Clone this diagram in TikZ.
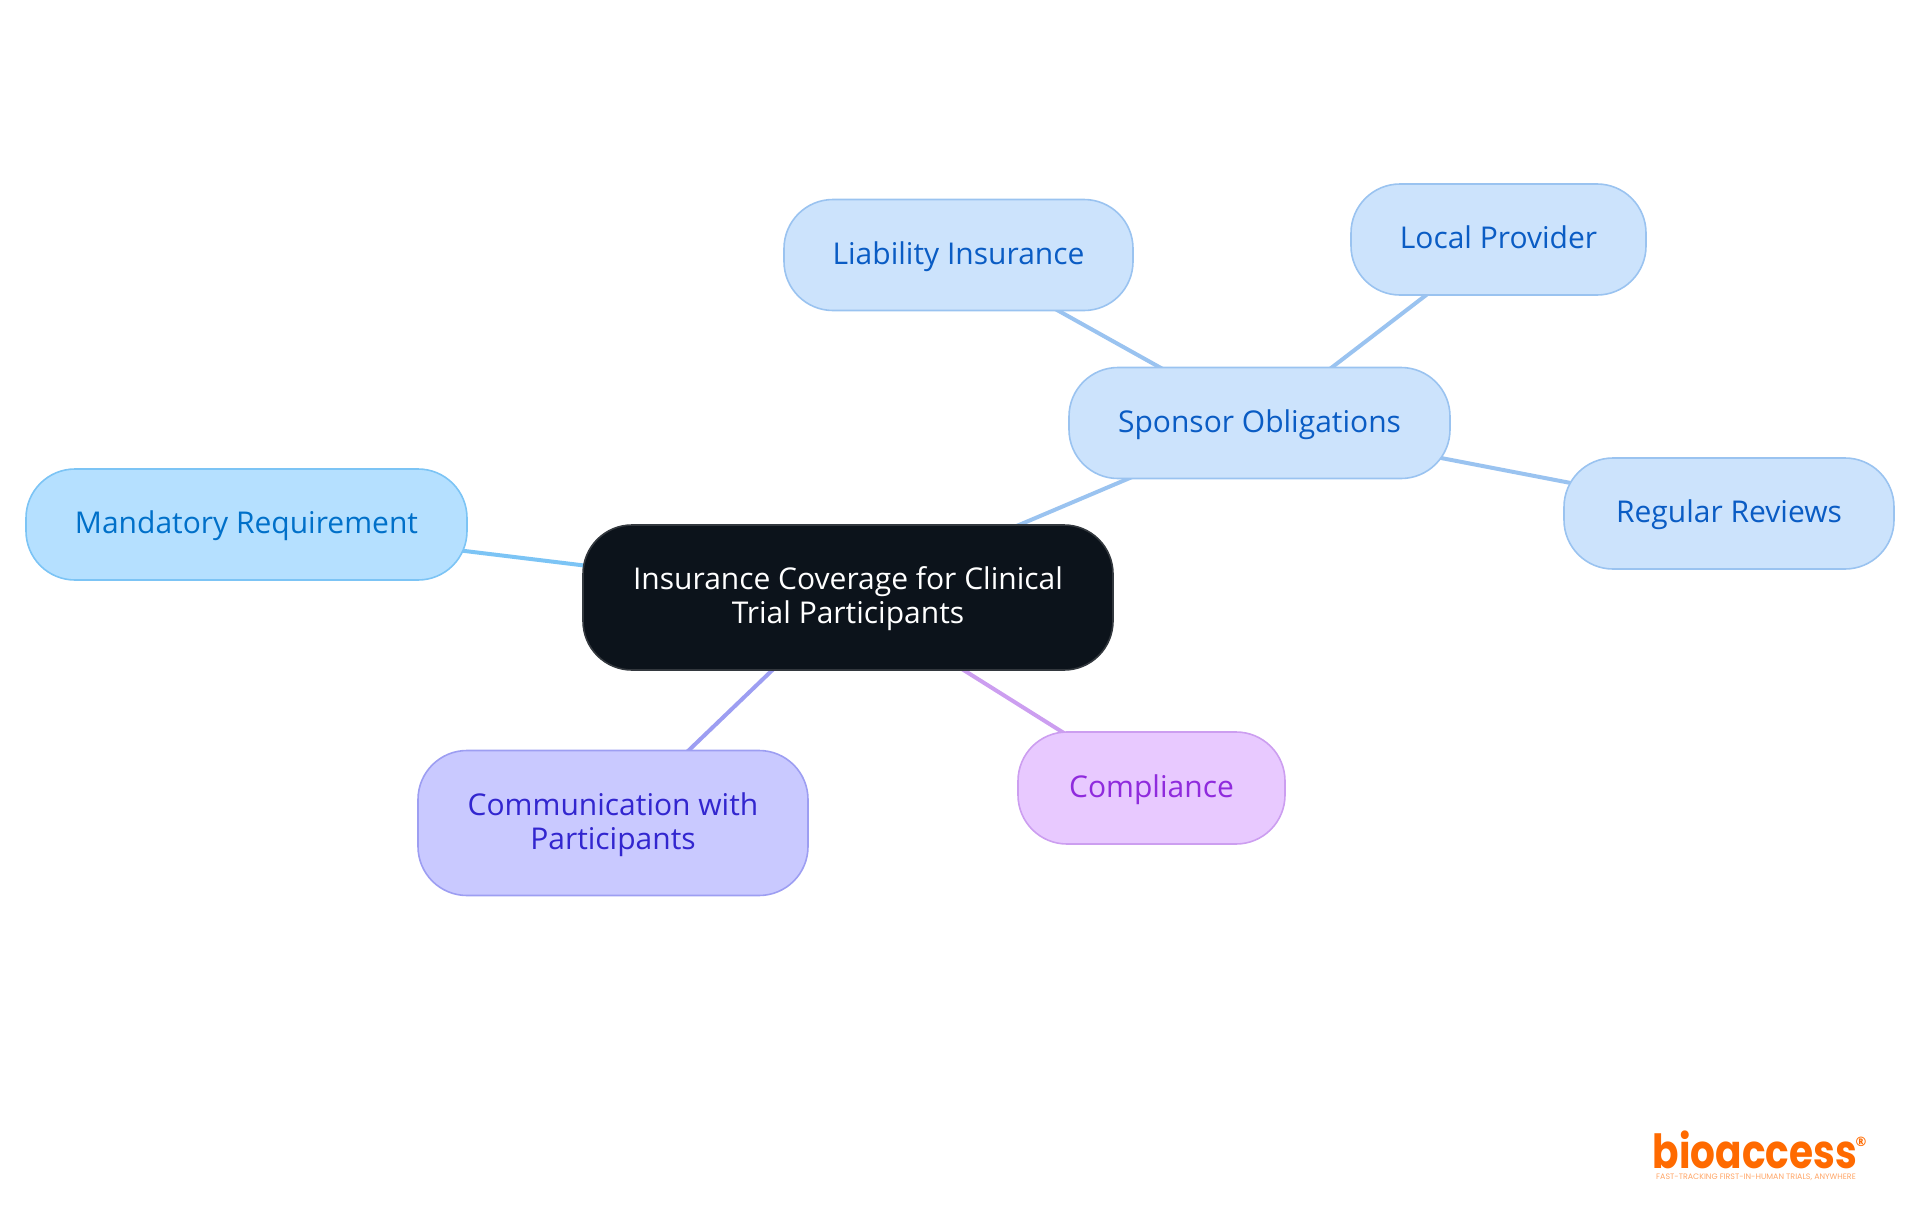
\documentclass[tikz,border=0pt]{standalone}
\usepackage{fontspec}
\setmainfont{Open Sans}
\newfontfamily\logofont{Poppins}
\usetikzlibrary{backgrounds}
\definecolor{cA}{HTML}{CCE3FC}\definecolor{cAb}{HTML}{9AC3F0}\definecolor{cAt}{HTML}{0A5CC4}
\definecolor{cB}{HTML}{B5E0FF}\definecolor{cBb}{HTML}{7CC4F5}\definecolor{cBt}{HTML}{0070C9}
\definecolor{cC}{HTML}{C9C9FF}\definecolor{cCb}{HTML}{9D9EF2}\definecolor{cCt}{HTML}{3226CF}
\definecolor{cD}{HTML}{E8C9FF}\definecolor{cDb}{HTML}{CC9EF0}\definecolor{cDt}{HTML}{8F2BDD}
\definecolor{cE}{HTML}{0C131B}\definecolor{cEb}{HTML}{33383E}
\definecolor{logoc}{HTML}{FF6A00}
\tikzset{
  mm/.style={rectangle,rounded corners=49pt,line width=1.6pt,align=center,inner sep=0pt,
    font=\fontsize{30}{34}\selectfont},
  single/.style={text height=24pt,text depth=6pt},
  ln/.style={line width=4pt},
}
\begin{document}
\begin{tikzpicture}[x=1pt,y=-1pt]
\useasboundingbox (0,0) rectangle (1920,1215);
\node[mm,fill=cE,draw=cEb,text=white,minimum width=530pt,minimum height=145pt] (c) at (848,597.5) {\rule{0pt}{26pt}Insurance Coverage for Clinical\\Trial Participants};
\node[mm,single,fill=cA,draw=cAb,text=cAt,minimum width=381pt,minimum height=111pt] (s) at (1259.5,423) {Sponsor Obligations};
\node[mm,single,fill=cA,draw=cAb,text=cAt,minimum width=349pt,minimum height=111pt] (l) at (958.5,255) {Liability Insurance};
\node[mm,single,fill=cA,draw=cAb,text=cAt,minimum width=295pt,minimum height=111pt] (p) at (1498.5,239.5) {Local Provider};
\node[mm,single,fill=cA,draw=cAb,text=cAt,minimum width=330pt,minimum height=111pt] (r) at (1729,513.5) {Regular Reviews};
\node[mm,single,fill=cB,draw=cBb,text=cBt,minimum width=441pt,minimum height=111pt] (m) at (246.5,524.5) {Mandatory Requirement};
\node[mm,fill=cC,draw=cCb,text=cCt,minimum width=390pt,minimum height=145pt] (o) at (613,823) {\rule{0pt}{27pt}Communication with\\Participants};
\node[mm,single,fill=cD,draw=cDb,text=cDt,minimum width=267pt,minimum height=112pt] (k) at (1151.5,788) {Compliance};
\begin{pgfonlayer}{background}
\draw[ln,cAb] (c.center) -- (s.center);
\draw[ln,cAb] (s.center) -- (l.center);
\draw[ln,cAb] (s.center) -- (p.center);
\draw[ln,cAb] (s.center) -- (r.center);
\draw[ln,cBb] (c.center) -- (m.center);
\draw[ln,cCb] (c.center) -- (o.center);
\draw[ln,cDb] (c.center) -- (k.center);
\end{pgfonlayer}
\node[text=logoc,inner sep=0pt,font=\logofont\bfseries\fontsize{47}{50}\selectfont] (logo) at (1755,1150) {\scalebox{0.83}[1]{bioaccess}};
\node[text=logoc,inner sep=0pt,font=\bfseries\fontsize{13}{14}\selectfont] (reg) at (1861,1142) {®};
\node[text=logoc!60,inner sep=0pt,font=\logofont\fontsize{7.9}{9}\selectfont] (tag) at (1756,1177) {FAST-TRACKING FIRST-IN-HUMAN TRIALS, ANYWHERE};
\end{tikzpicture}
\end{document}
